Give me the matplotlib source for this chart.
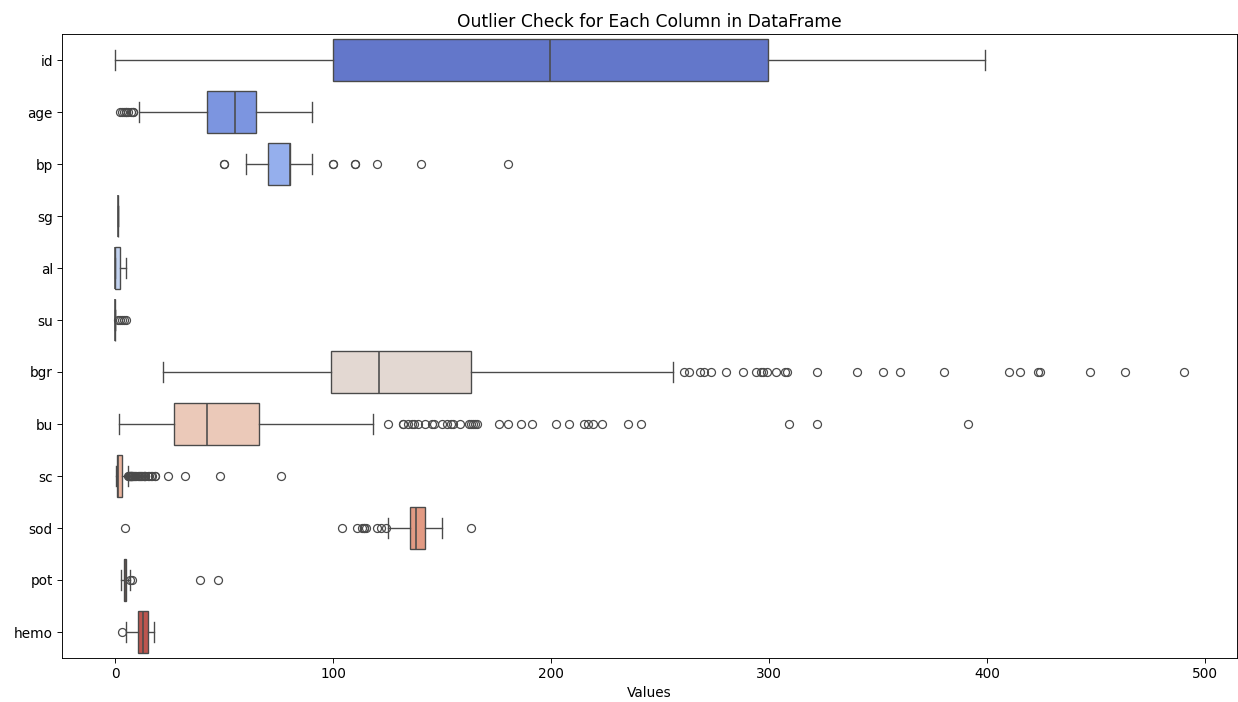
import colorsys
import numpy as np
import matplotlib
matplotlib.use("Agg")
import matplotlib.pyplot as plt

# columns of the dataframe, top to bottom
columns = ["id", "age", "bp", "sg", "al", "su", "bgr", "bu", "sc", "sod", "pot", "hemo"]

# box summary
whis_low = [0, 11, 60, 1.005, 0, 0, 22, 1.5, 0.4, 125, 2.5, 4.8]
q1 = [99.75, 42, 70, 1.01, 0, 0, 99, 27, 0.9, 135, 3.8, 10.3]
median = [199.5, 55, 80, 1.02, 0, 0, 121, 42, 1.3, 138, 4.4, 12.65]
q3 = [299.25, 64.5, 80, 1.02, 2, 0, 163, 66, 2.8, 142, 4.9, 15.0]
whis_high = [399, 90, 90, 1.025, 5, 0, 256, 118, 5.6, 150, 6.5, 17.8]

# outliers per column
fliers = [
    [],
    [2, 3, 4, 5, 5, 6, 7, 8, 8],
    [50, 50, 100, 100, 110, 110, 120, 140, 180],
    [],
    [],
    [1, 2, 3, 4, 5],
    [261, 263, 268, 270, 273, 280, 288, 294, 296, 297, 299, 303, 307, 308,
     322, 340, 352, 360, 380, 410, 415, 423, 424, 447, 463, 490],
    [125, 132, 132, 134, 136, 137, 139, 142, 145, 146, 150, 152, 154, 155,
     158, 162, 163, 164, 165, 166, 176, 180, 186, 191, 202, 208, 215, 217,
     219, 223, 235, 241, 309, 322, 391],
    [5.9, 6.1, 6.3, 6.5, 6.7, 7.1, 7.2, 7.3, 7.5, 7.7, 8.2, 8.5, 9.2, 9.6,
     10.2, 10.8, 11.5, 11.9, 12.2, 13.0, 13.3, 13.5, 13.8, 15.0, 15.2, 16.4,
     16.9, 18.0, 18.1, 24.0, 32.0, 48.1, 76.0],
    [4.5, 104, 111, 113, 114, 114, 115, 120, 122, 124, 163],
    [6.6, 7.6, 39, 47],
    [3.1],
]

# coolwarm palette, desaturated like seaborn does
cmap = plt.get_cmap("coolwarm")
colors = []
for v in np.linspace(0, 1, len(columns) + 2)[1:-1]:
    r, g, b, _ = cmap(v)
    h, l, s = colorsys.rgb_to_hls(r, g, b)
    colors.append(colorsys.hls_to_rgb(h, l, s * 0.75))
line_col = "#4a4a4a"

stats = []
for i, name in enumerate(columns):
    stats.append(dict(label=name, whislo=whis_low[i], q1=q1[i], med=median[i],
                      q3=q3[i], whishi=whis_high[i], fliers=fliers[i]))

fig = plt.figure(figsize=(1238 / 82, 702 / 82), dpi=82)
ax = fig.add_axes([62 / 1238, 44 / 702, 1175 / 1238, 624 / 702])

bp = ax.bxp(stats, positions=range(len(columns)), vert=False, widths=0.8,
            patch_artist=True, showfliers=True,
            boxprops=dict(edgecolor=line_col, linewidth=1.2),
            whiskerprops=dict(color=line_col, linewidth=1.2),
            capprops=dict(color=line_col, linewidth=1.2),
            medianprops=dict(color=line_col, linewidth=1.4),
            flierprops=dict(marker="o", markerfacecolor="none",
                            markeredgecolor=line_col, markersize=7,
                            markeredgewidth=1.1))
for patch, c in zip(bp["boxes"], colors):
    patch.set_facecolor(c)

ax.set_yticks(range(len(columns)))
ax.set_yticklabels(columns)
ax.set_ylim(len(columns) - 0.5, -0.5)
ax.margins(x=0.05)
ax.tick_params(labelsize=12, length=4.5)
ax.set_xlabel("Values", fontsize=12)
ax.set_title("Outlier Check for Each Column in DataFrame", fontsize=15)

fig.savefig("out.png", dpi=82)
